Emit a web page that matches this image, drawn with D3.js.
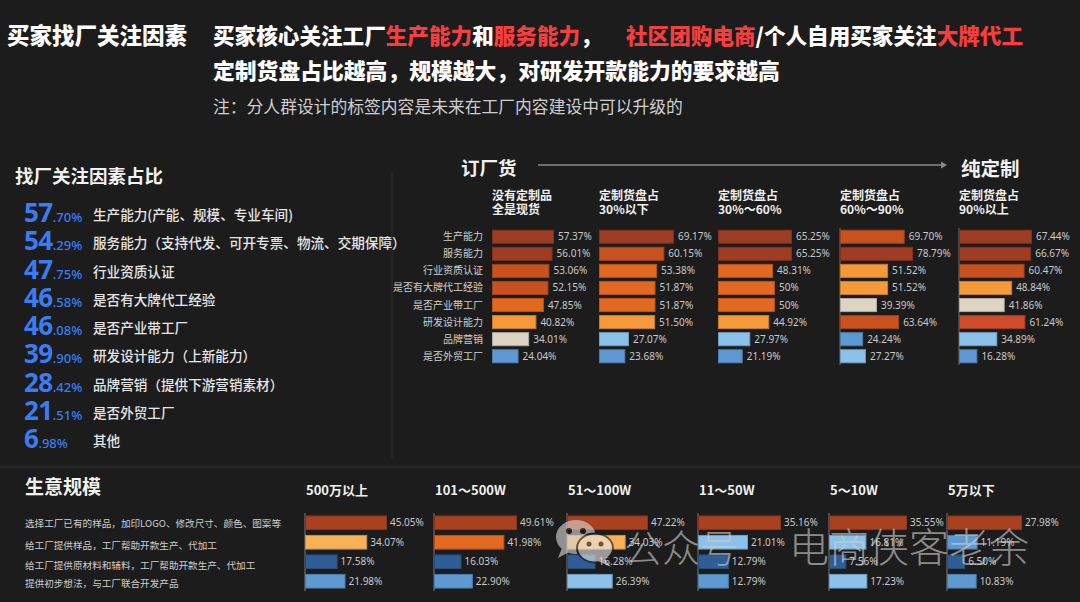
<!DOCTYPE html>
<html>
<head>
<meta charset="utf-8">
<script src="https://cdn.jsdelivr.net/npm/d3@7/dist/d3.min.js"></script>
<style>
  html, body { margin: 0; padding: 0; background: #1c1c1c; }
  svg { display: block; font-family: "Noto Sans CJK SC", "Noto Sans", sans-serif; }
</style>
</head>
<body>
<svg id="chart" width="1080" height="602"></svg>
<script>
// ---------------- DATA ----------------
const factorLabels = [
  "生产能力(产能、规模、专业车间)",
  "服务能力（支持代发、可开专票、物流、交期保障）",
  "行业资质认证",
  "是否有大牌代工经验",
  "是否产业带工厂",
  "研发设计能力（上新能力）",
  "品牌营销（提供下游营销素材）",
  "是否外贸工厂",
  "其他"
];
const factorValues = [57.70, 54.29, 47.75, 46.58, 46.08, 39.90, 28.42, 21.51, 6.98];

const panelTitles = [
  ["没有定制品", "全是现货"],
  ["定制货盘占", "30%以下"],
  ["定制货盘占", "30%～60%"],
  ["定制货盘占", "60%～90%"],
  ["定制货盘占", "90%以上"]
];
const rowLabels = ["生产能力", "服务能力", "行业资质认证", "是否有大牌代工经验", "是否产业带工厂", "研发设计能力", "品牌营销", "是否外贸工厂"];
const panelValues = [
  [57.37, 56.01, 53.06, 52.15, 47.85, 40.82, 34.01, 24.04],
  [69.17, 60.15, 53.38, 51.87, 51.87, 51.50, 27.07, 23.68],
  [65.25, 65.25, 48.31, 50, 50, 44.92, 27.97, 21.19],
  [69.70, 78.79, 51.52, 51.52, 39.39, 63.64, 24.24, 27.27],
  [67.44, 66.67, 60.47, 48.84, 41.86, 61.24, 34.89, 16.28]
];
const panelValueText = [
  ["57.37%", "56.01%", "53.06%", "52.15%", "47.85%", "40.82%", "34.01%", "24.04%"],
  ["69.17%", "60.15%", "53.38%", "51.87%", "51.87%", "51.50%", "27.07%", "23.68%"],
  ["65.25%", "65.25%", "48.31%", "50%", "50%", "44.92%", "27.97%", "21.19%"],
  ["69.70%", "78.79%", "51.52%", "51.52%", "39.39%", "63.64%", "24.24%", "27.27%"],
  ["67.44%", "66.67%", "60.47%", "48.84%", "41.86%", "61.24%", "34.89%", "16.28%"]
];

const scaleTitles = ["500万以上", "101～500W", "51～100W", "11～50W", "5～10W", "5万以下"];
const scaleRowLabels = [
  "选择工厂已有的样品，加印LOGO、修改尺寸、颜色、图案等",
  "给工厂提供样品，工厂帮助开款生产、代加工",
  "给工厂提供原材料和辅料，工厂帮助开款生产、代加工",
  "提供初步想法，与工厂联合开发产品"
];
const scaleValues = [
  [45.05, 34.07, 17.58, 21.98],
  [49.61, 41.98, 16.03, 22.90],
  [47.22, 34.03, 16.28, 26.39],
  [35.16, 21.01, 12.79, 12.79],
  [35.55, 16.81, 7.56, 17.23],
  [27.98, 11.19, 6.50, 10.83]
];

// ---------------- STYLE ----------------
const palette = {
  dr: "#9f3c24", br: "#a9401f", or1: "#c8521f", or2: "#e2691f", lo: "#f49a3a", lo2: "#f7b258",
  bg: "#ddd4c4", lb: "#8cc2ea", b: "#5e99d2", db: "#2f5e97", rd: "#d04a2c"
};
const panelColorKeys = [
  ["dr", "dr", "or1", "or1", "or2", "lo", "bg", "b"],
  ["dr", "or1", "or2", "or2", "or2", "lo", "lb", "b"],
  ["dr", "dr", "or2", "or2", "or2", "lo", "lb", "b"],
  ["or1", "dr", "lo", "lo", "bg", "or1", "b", "lb"],
  ["dr", "dr", "or1", "lo", "bg", "rd", "lb", "b"]
];
const scaleColorKeys = [
  ["br", "lo2", "db", "b"],
  ["br", "or2", "db", "b"],
  ["br", "lo2", "db", "lb"],
  ["br", "lb", "db", "b"],
  ["br", "lb", "db", "lb"],
  ["br", "b", "db", "b"]
];

// ---------------- LAYOUT ----------------
const panelX = [492, 599, 718, 840, 959];
const panelMaxW = [61, 74, 73, 72, 72];
const scaleX = [305, 434, 567, 698, 829, 947];
const scaleMaxW = [81, 82, 80, 82, 77, 74];

const svg = d3.select("#chart");
svg.append("rect").attr("width", 1080).attr("height", 602).attr("fill", "#1c1c1c");

// ---------- Header ----------
svg.append("text").attr("x", 7).attr("y", 44).attr("font-size", 22.5).attr("font-weight", 900)
  .attr("fill", "#ffffff").text("买家找厂关注因素");

const red = "#f43f3f";
const l1 = svg.append("text").attr("x", 213).attr("y", 44).attr("font-size", 21.6).attr("font-weight", 900).attr("fill", "#ffffff");
[["买家核心关注工厂", "#fff"], ["生产能力", red], ["和", "#fff"], ["服务能力", red], ["，", "#fff"]]
  .forEach(([t, c]) => l1.append("tspan").attr("fill", c).text(t));
const l1b = svg.append("text").attr("x", 626).attr("y", 44).attr("font-size", 21.6).attr("font-weight", 900).attr("fill", "#ffffff");
[["社区团购电商", red], ["/个人自用买家关注", "#fff"], ["大牌代工", red]]
  .forEach(([t, c]) => l1b.append("tspan").attr("fill", c).text(t));

svg.append("text").attr("x", 213).attr("y", 79).attr("font-size", 21.8).attr("font-weight", 900)
  .attr("fill", "#ffffff").text("定制货盘占比越高，规模越大，对研发开款能力的要求越高");
svg.append("text").attr("x", 213).attr("y", 113).attr("font-size", 16.8).attr("font-weight", 400)
  .attr("fill", "#cfcfcf").text("注：分人群设计的标签内容是未来在工厂内容建设中可以升级的");

// ---------- Separators ----------
svg.append("line").attr("x1", 392).attr("x2", 392).attr("y1", 172).attr("y2", 458)
  .attr("stroke", "#2e2e2e").attr("stroke-width", 1);
svg.append("line").attr("x1", 0).attr("x2", 1080).attr("y1", 467).attr("y2", 467)
  .attr("stroke", "#2c2c2c").attr("stroke-width", 1.5);

// ---------- Left list ----------
svg.append("text").attr("x", 15).attr("y", 183).attr("font-size", 18.5).attr("font-weight", 700)
  .attr("fill", "#f2f2f2").text("找厂关注因素占比");

const listY = d3.scaleLinear().domain([0, factorValues.length - 1]).range([222, 448]);
const listG = svg.append("g");
factorValues.forEach((v, i) => {
  const s = v.toFixed(2).split(".");
  const t = listG.append("text").attr("x", 24).attr("y", listY(i)).attr("fill", "#3b7cf2")
    .attr("font-family", "'Noto Sans', 'Open Sans', sans-serif").attr("font-weight", 700);
  t.append("tspan").attr("font-size", 26).attr("letter-spacing", -0.5).text(s[0]);
  t.append("tspan").attr("font-size", 13).attr("font-weight", 500).text("." + s[1] + "%");
  listG.append("text").attr("x", 93).attr("y", listY(i) - 2).attr("font-size", 13.6).attr("font-weight", 500)
    .attr("fill", "#e6e6e6").text(factorLabels[i]);
});

// ---------- Top right: panels ----------
svg.append("text").attr("x", 461).attr("y", 175).attr("font-size", 18.5).attr("font-weight", 700)
  .attr("fill", "#f2f2f2").text("订厂货");
svg.append("text").attr("x", 961).attr("y", 176).attr("font-size", 19.5).attr("font-weight", 700)
  .attr("fill", "#f2f2f2").text("纯定制");
svg.append("line").attr("x1", 538).attr("x2", 942).attr("y1", 165).attr("y2", 165)
  .attr("stroke", "#8a8a8a").attr("stroke-width", 1.4);
svg.append("path").attr("d", "M941,161.5 L947,165 L941,168.5 Z").attr("fill", "#8a8a8a");

const rowY = d3.scaleBand().domain(d3.range(rowLabels.length)).range([228.5, 364.5]).paddingInner(0.235).paddingOuter(0.1);

// row labels
svg.append("g").selectAll("text").data(rowLabels).join("text")
  .attr("x", 483).attr("y", (d, i) => rowY(i) + rowY.bandwidth() / 2)
  .attr("dy", "0.35em").attr("text-anchor", "end").attr("font-size", 10).attr("fill", "#cfcfcf").text(d => d);

panelValues.forEach((vals, p) => {
  const g = svg.append("g").attr("transform", `translate(${panelX[p]},0)`);
  const x = d3.scaleLinear().domain([0, d3.max(vals)]).range([0, panelMaxW[p]]);
  const tt = g.append("text").attr("x", 0).attr("font-size", 12).attr("font-weight", 700).attr("fill", "#f0f0f0");
  tt.append("tspan").attr("x", 0).attr("y", 200).text(panelTitles[p][0]);
  tt.append("tspan").attr("x", 0).attr("y", 214).text(panelTitles[p][1]);
  if (p >= 3) {
    g.append("line").attr("x1", 0).attr("x2", 0).attr("y1", 228).attr("y2", 365)
      .attr("stroke", "#6a6a6a").attr("stroke-width", 1);
  }
  g.selectAll("rect").data(vals).join("rect")
    .attr("x", 0.5).attr("y", (d, i) => rowY(i)).attr("width", d => x(d)).attr("height", rowY.bandwidth())
    .attr("fill", (d, i) => palette[panelColorKeys[p][i]])
    .attr("stroke", (d, i) => d3.color(palette[panelColorKeys[p][i]]).darker(0.6)).attr("stroke-width", 1);
  g.selectAll("text.v").data(vals).join("text").attr("class", "v")
    .attr("x", d => x(d) + 5).attr("y", (d, i) => rowY(i) + rowY.bandwidth() / 2).attr("dy", "0.35em")
    .attr("font-size", 10).attr("fill", "#c9c9c9").attr("font-family", "'Noto Sans', sans-serif")
    .text((d, i) => panelValueText[p][i]);
});

// ---------- Bottom: business scale ----------
svg.append("text").attr("x", 25).attr("y", 494).attr("font-size", 19).attr("font-weight", 700)
  .attr("fill", "#f2f2f2").text("生意规模");

const labelY = [523.5, 545.5, 565.5, 584];
svg.append("g").selectAll("text").data(scaleRowLabels).join("text")
  .attr("x", 25).attr("y", (d, i) => labelY[i]).attr("dy", "0.35em")
  .attr("font-size", 9.6).attr("fill", "#cfcfcf").text(d => d);

const sRowY = d3.scaleBand().domain(d3.range(4)).range([514, 590]).paddingInner(0.3).paddingOuter(0.1);

scaleValues.forEach((vals, p) => {
  const g = svg.append("g").attr("transform", `translate(${scaleX[p]},0)`);
  const x = d3.scaleLinear().domain([0, d3.max(vals)]).range([0, scaleMaxW[p]]);
  g.append("text").attr("x", 1).attr("y", 495).attr("font-size", 13).attr("font-weight", 700)
    .attr("fill", "#f0f0f0").text(scaleTitles[p]);
  g.append("line").attr("x1", 0).attr("x2", 0).attr("y1", 513).attr("y2", 591)
    .attr("stroke", "#7a7a7a").attr("stroke-width", 1);
  g.selectAll("rect").data(vals).join("rect")
    .attr("x", 0.5).attr("y", (d, i) => sRowY(i)).attr("width", d => x(d)).attr("height", sRowY.bandwidth())
    .attr("fill", (d, i) => palette[scaleColorKeys[p][i]])
    .attr("stroke", (d, i) => d3.color(palette[scaleColorKeys[p][i]]).darker(0.6)).attr("stroke-width", 1);
  g.selectAll("text.v").data(vals).join("text").attr("class", "v")
    .attr("x", d => x(d) + 4).attr("y", (d, i) => sRowY(i) + sRowY.bandwidth() / 2).attr("dy", "0.35em")
    .attr("font-size", 10).attr("fill", "#c9c9c9").attr("font-family", "'Noto Sans', sans-serif")
    .text(d => d.toFixed(2) + "%");
});

// ---------- Watermark ----------
const wm = svg.append("g").attr("opacity", 0.62);
wm.append("ellipse").attr("cx", 576).attr("cy", 537).attr("rx", 20).attr("ry", 17).attr("fill", "#d8d8d8");
wm.append("path").attr("d", "M562,548 L558,558 L569,552 Z").attr("fill", "#d8d8d8");
wm.append("circle").attr("cx", 569).attr("cy", 531).attr("r", 3).attr("fill", "#1c1c1c");
wm.append("circle").attr("cx", 583).attr("cy", 531).attr("r", 3).attr("fill", "#1c1c1c");
wm.append("ellipse").attr("cx", 595).attr("cy", 548).attr("rx", 18).attr("ry", 14.5).attr("fill", "#e6e6e6")
  .attr("stroke", "#1c1c1c").attr("stroke-width", 2);
wm.append("path").attr("d", "M605,559 L611,567 L598,561 Z").attr("fill", "#e6e6e6");
wm.append("circle").attr("cx", 589).attr("cy", 544).attr("r", 2.5).attr("fill", "#1c1c1c");
wm.append("circle").attr("cx", 601).attr("cy", 544).attr("r", 2.5).attr("fill", "#1c1c1c");
wm.append("text").attr("x", 624).attr("y", 562).attr("font-size", 38).attr("font-weight", 300)
  .attr("fill", "#cfcfcf").text("公众号");
wm.append("text").attr("x", 789).attr("y", 562).attr("font-size", 40).attr("font-weight", 300)
  .attr("fill", "#cfcfcf").text("电商侠客老余");
</script>
</body>
</html>
